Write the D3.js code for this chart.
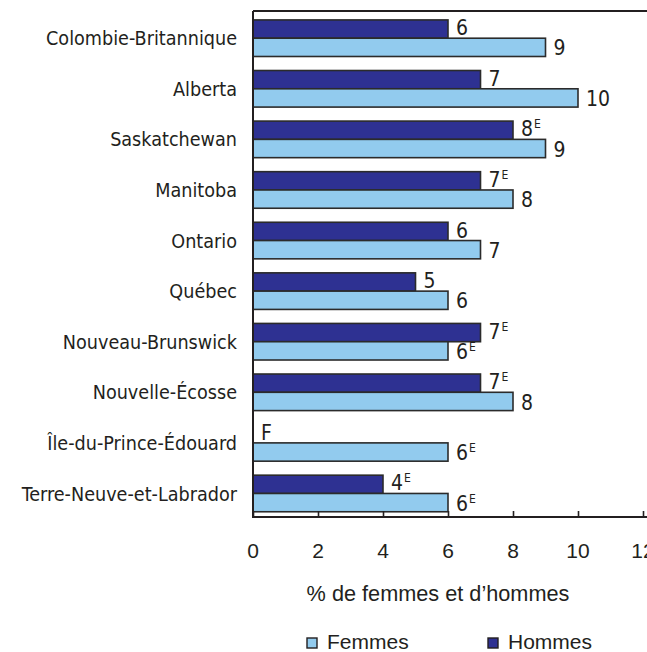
<!DOCTYPE html>
<html lang="fr">
<head>
<meta charset="UTF-8">
<script src="https://d3js.org/d3.v7.min.js"></script>
<style>
  body { margin: 0; background: #fff; }
  svg { display: block; }
  .cat { font-family: "Liberation Sans Narrow", "Arial Narrow", "DejaVu Sans Condensed", sans-serif; font-size: 19.6px; fill: #231f20; }
  .val { font-family: "Liberation Sans Narrow", "Arial Narrow", "DejaVu Sans Condensed", sans-serif; font-size: 21px; fill: #231f20; }
  .tick, .leg { font-family: "Liberation Sans", Arial, sans-serif; font-size: 21px; fill: #231f20; }
  .title { font-family: "Liberation Sans", Arial, sans-serif; font-size: 21.7px; fill: #231f20; }
</style>
</head>
<body>
<svg width="647" height="652"></svg>
<script>
// provinces, top to bottom
var provinces = ["Colombie-Britannique", "Alberta", "Saskatchewan", "Manitoba", "Ontario",
  "Québec", "Nouveau-Brunswick", "Nouvelle-Écosse", "Île-du-Prince-Édouard", "Terre-Neuve-et-Labrador"];
var femmes = [9, 10, 9, 8, 7, 6, 6, 8, 6, 6];
var hommes = [6, 7, 8, 7, 6, 5, 7, 7, null, 4];
var femmesNote = ["", "", "", "", "", "", "E", "", "E", "E"];
var hommesNote = ["", "", "E", "E", "", "", "E", "E", "", "E"];
var series = ["Hommes", "Femmes"];
var seriesColors = ["#2e3192", "#92cbee"];
var xTicks = [0, 2, 4, 6, 8, 10, 12];

var svg = d3.select("svg");
var plotLeft = 253, plotRight = 643, plotTop = 11, plotBottom = 517;

var x = d3.scaleLinear().domain([0, 12]).range([plotLeft, plotRight]);
var y = d3.scaleBand().domain(provinces).range([plotTop, plotBottom])
  .paddingInner(0.277).paddingOuter(0.14).align(0.63);
var ySub = d3.scaleBand().domain(series).range([0, y.bandwidth()]);
var colour = d3.scaleOrdinal().domain(series).range(seriesColors);

// rows of data
var rows = [];
provinces.forEach(function(p, i) {
  rows.push({ prov: p, s: "Hommes", v: hommes[i], note: hommesNote[i] });
  rows.push({ prov: p, s: "Femmes", v: femmes[i], note: femmesNote[i] });
});

// bars
svg.append("g").selectAll("rect")
  .data(rows.filter(function(d) { return d.v != null; }))
  .enter().append("rect")
  .attr("x", x(0))
  .attr("y", function(d) { return y(d.prov) + ySub(d.s); })
  .attr("width", function(d) { return x(d.v) - x(0); })
  .attr("height", ySub.bandwidth())
  .attr("fill", function(d) { return colour(d.s); })
  .attr("stroke", "#2b2b2b")
  .attr("stroke-width", 1.6);

// value labels
var lab = svg.append("g").selectAll("text")
  .data(rows)
  .enter().append("text")
  .attr("class", "val")
  .attr("x", function(d) { return x(d.v == null ? 0 : d.v) + 8; })
  .attr("y", function(d) {
    var b = y(d.prov) + ySub(d.s) + ySub.bandwidth();
    return d.s == "Hommes" ? b - 3 : b - 1;
  });
lab.append("tspan").text(function(d) { return d.v == null ? "F" : d.v; });
lab.append("tspan")
  .attr("font-size", "12px")
  .attr("dx", 1)
  .attr("dy", -8)
  .text(function(d) { return d.note; });

// category labels
svg.append("g").selectAll("text")
  .data(provinces)
  .enter().append("text")
  .attr("class", "cat")
  .attr("x", 237)
  .attr("y", function(d) { return y(d) + y.bandwidth() / 2; })
  .attr("dy", "0.36em")
  .attr("text-anchor", "end")
  .text(function(d) { return d; });

// frame lines
var line = svg.append("g").attr("stroke", "#231f20").attr("stroke-width", 2);
line.append("line").attr("x1", plotLeft).attr("x2", 647).attr("y1", plotTop).attr("y2", plotTop);
line.append("line").attr("x1", plotLeft).attr("x2", plotLeft).attr("y1", plotTop).attr("y2", plotBottom + 1);

// x axis
var xAxis = svg.append("g")
  .attr("transform", "translate(0," + plotBottom + ")")
  .call(d3.axisTop(x).tickValues(xTicks).tickSize(6).tickFormat(""));
xAxis.select(".domain").remove();
xAxis.selectAll("line").attr("stroke", "#231f20").attr("stroke-width", 1.6);
svg.append("line").attr("x1", plotLeft - 1).attr("x2", 647).attr("y1", plotBottom).attr("y2", plotBottom)
  .attr("stroke", "#231f20").attr("stroke-width", 2);

svg.append("g").selectAll("text")
  .data(xTicks)
  .enter().append("text")
  .attr("class", "tick")
  .attr("x", function(d) { return x(d); })
  .attr("y", 558)
  .attr("text-anchor", "middle")
  .text(function(d) { return d; });

svg.append("text").attr("class", "title")
  .attr("x", 438).attr("y", 601)
  .attr("text-anchor", "middle")
  .text("% de femmes et d\u2019hommes");

// legend
var legX = [307, 488];
var legOrder = ["Femmes", "Hommes"];
var leg = svg.append("g").selectAll("g")
  .data(legOrder)
  .enter().append("g")
  .attr("transform", function(d, i) { return "translate(" + legX[i] + ",638)"; });
leg.append("rect")
  .attr("width", 10).attr("height", 10)
  .attr("fill", function(d) { return colour(d); })
  .attr("stroke", "#231f20").attr("stroke-width", 1.4);
leg.append("text").attr("class", "leg")
  .attr("x", 20).attr("y", 11)
  .text(function(d) { return d; });
</script>
</body>
</html>
